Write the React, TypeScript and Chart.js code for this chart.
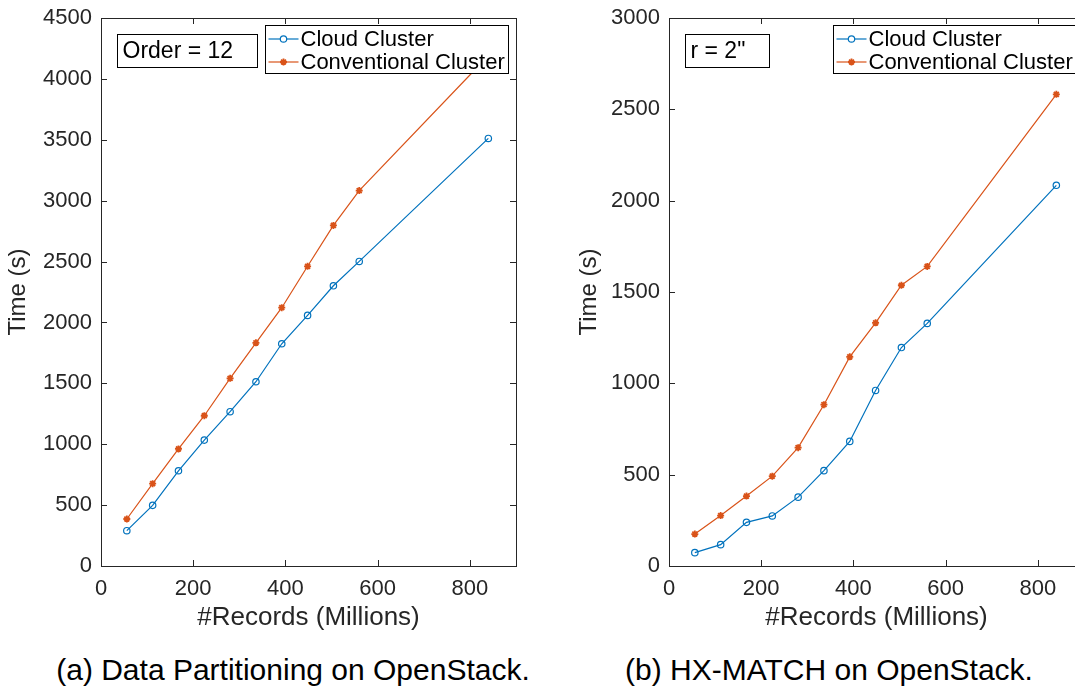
import React, { useEffect, useRef } from "react";
import { Chart, registerables } from "chart.js";

Chart.register(...registerables);

// ---------- data ----------
const records = [56, 112, 168, 224, 280, 336, 392, 448, 504, 560, 840];
const partitionCloud = [290, 498, 782, 1034, 1267, 1513, 1825, 2058, 2301, 2501, 3511];
const partitionConventional = [386, 676, 961, 1234, 1541, 1833, 2121, 2461, 2797, 3083, 4190];
const matchCloud = [73, 117, 239, 274, 377, 522, 682, 961, 1196, 1328, 2084];
const matchConventional = [175, 276, 383, 492, 648, 883, 1145, 1331, 1537, 1640, 2582];
const xTicks = [0, 200, 400, 600, 800];
const xMax = 900;
const partitionYTicks = [0, 500, 1000, 1500, 2000, 2500, 3000, 3500, 4000, 4500];
const matchYTicks = [0, 500, 1000, 1500, 2000, 2500, 3000];
const seriesNames = ["Cloud Cluster", "Conventional Cluster"];
const xTitle = "#Records (Millions)";
const yTitle = "Time (s)";
const captions = ["(a) Data Partitioning on OpenStack.", "(b) HX-MATCH on OpenStack."];
const annotations = ["Order = 12", 'r = 2"'];

const BLUE = "#0072BD";
const ORANGE = "#D95319";
const AXIS = "#262626";
const FONT = "'Liberation Sans', Arial, Helvetica, sans-serif";

function drawStar(ctx: CanvasRenderingContext2D, x: number, y: number, r: number) {
  ctx.beginPath();
  ctx.moveTo(x - r, y);
  ctx.lineTo(x + r, y);
  ctx.moveTo(x, y - r);
  ctx.lineTo(x, y + r);
  const d = r * 0.7071;
  ctx.moveTo(x - d, y - d);
  ctx.lineTo(x + d, y + d);
  ctx.moveTo(x - d, y + d);
  ctx.lineTo(x + d, y - d);
  ctx.stroke();
}

function makeDecorPlugin(annotation: string) {
  return {
    id: "matlabDecor",
    afterDraw(chart: any) {
      const { ctx, chartArea: a, scales } = chart;
      ctx.save();
      // frame
      ctx.strokeStyle = AXIS;
      ctx.lineWidth = 1;
      ctx.strokeRect(Math.round(a.left) + 0.5, Math.round(a.top) + 0.5, Math.round(a.width), Math.round(a.height));
      // inward ticks on all sides
      const tl = 6;
      ctx.beginPath();
      for (const t of scales.x.ticks) {
        const px = Math.round(scales.x.getPixelForValue(t.value)) + 0.5;
        ctx.moveTo(px, a.bottom);
        ctx.lineTo(px, a.bottom - tl);
        ctx.moveTo(px, a.top);
        ctx.lineTo(px, a.top + tl);
      }
      for (const t of scales.y.ticks) {
        const py = Math.round(scales.y.getPixelForValue(t.value)) + 0.5;
        ctx.moveTo(a.left, py);
        ctx.lineTo(a.left + tl, py);
        ctx.moveTo(a.right, py);
        ctx.lineTo(a.right - tl, py);
      }
      ctx.stroke();

      // annotation text box
      ctx.font = `23px ${FONT}`;
      const tw = ctx.measureText(annotation).width;
      const bx = Math.round(a.left + 16) + 0.5;
      const by = Math.round(a.top + 16) + 0.5;
      const bw = Math.round(tw + 29);
      const bh = 33;
      ctx.fillStyle = "#ffffff";
      ctx.fillRect(bx, by, bw, bh);
      ctx.strokeStyle = "#000000";
      ctx.strokeRect(bx, by, bw, bh);
      ctx.fillStyle = "#000000";
      ctx.textBaseline = "middle";
      ctx.textAlign = "left";
      ctx.fillText(annotation, bx + 5, by + bh / 2 + 1);

      // legend
      const lw = 243;
      const lh = 48;
      const lx = Math.round(a.right - 8 - lw) + 0.5;
      const ly = Math.round(a.top + 7) + 0.5;
      ctx.fillStyle = "#ffffff";
      ctx.fillRect(lx, ly, lw, lh);
      ctx.strokeStyle = "#000000";
      ctx.strokeRect(lx, ly, lw, lh);
      ctx.font = `22px ${FONT}`;
      const rows = [
        { name: seriesNames[0], color: BLUE, marker: "circle", y: ly + 13.5 },
        { name: seriesNames[1], color: ORANGE, marker: "star", y: ly + 36.5 },
      ];
      for (const r of rows) {
        ctx.strokeStyle = r.color;
        ctx.lineWidth = 1.2;
        ctx.beginPath();
        ctx.moveTo(lx + 3, r.y);
        ctx.lineTo(lx + 33, r.y);
        ctx.stroke();
        if (r.marker === "circle") {
          ctx.beginPath();
          ctx.arc(lx + 18, r.y, 3.2, 0, Math.PI * 2);
          ctx.fillStyle = "#ffffff";
          ctx.fill();
          ctx.stroke();
        } else {
          ctx.lineWidth = 1.8;
          drawStar(ctx, lx + 18, r.y, 3.5);
        }
        ctx.fillStyle = "#000000";
        ctx.textBaseline = "middle";
        ctx.fillText(r.name, lx + 35, r.y + 1);
      }
      ctx.restore();
    },
  };
}

function makeConfig(
  cloud: number[],
  conventional: number[],
  yTicks: number[],
  annotation: string,
  yAxisWidth: number,
  padRight: number
): any {
  return {
    type: "line",
    data: {
      datasets: [
        {
          label: seriesNames[0],
          data: records.map((x, i) => ({ x, y: cloud[i] })),
          borderColor: BLUE,
          backgroundColor: BLUE,
          borderWidth: 1.2,
          pointStyle: "circle",
          pointRadius: 3.2,
          pointBorderWidth: 1.2,
          pointBorderColor: BLUE,
          pointBackgroundColor: "rgba(255,255,255,0)",
          tension: 0,
        },
        {
          label: seriesNames[1],
          data: records.map((x, i) => ({ x, y: conventional[i] })),
          borderColor: ORANGE,
          backgroundColor: ORANGE,
          borderWidth: 1.2,
          pointStyle: "star",
          pointRadius: 3.5,
          pointBorderWidth: 1.8,
          pointBorderColor: ORANGE,
          pointBackgroundColor: ORANGE,
          tension: 0,
        },
      ],
    },
    options: {
      responsive: false,
      animation: false,
      devicePixelRatio: 1,
      layout: { padding: { left: 0, right: padRight, top: 18, bottom: 0 } },
      plugins: { legend: { display: false }, tooltip: { enabled: false }, title: { display: false } },
      scales: {
        x: {
          type: "linear",
          min: 0,
          max: xMax,
          grid: { display: false, drawTicks: false },
          border: { display: false },
          afterBuildTicks: (s: any) => {
            s.ticks = xTicks.map((v) => ({ value: v }));
          },
          afterFit: (s: any) => {
            s.height = 74;
            s.paddingLeft = 0;
            s.paddingRight = 0;
          },
          ticks: {
            color: AXIS,
            padding: 10,
            maxRotation: 0,
            font: { family: FONT, size: 22 },
            callback: (v: any) => String(v),
          },
          title: {
            display: true,
            text: xTitle,
            color: AXIS,
            font: { family: FONT, size: 26 },
            padding: { top: 0, bottom: 7 },
          },
        },
        y: {
          type: "linear",
          min: 0,
          max: yTicks[yTicks.length - 1],
          grid: { display: false, drawTicks: false },
          border: { display: false },
          afterBuildTicks: (s: any) => {
            s.ticks = yTicks.map((v) => ({ value: v }));
          },
          afterFit: (s: any) => {
            s.width = yAxisWidth;
            s.paddingTop = 0;
            s.paddingBottom = 0;
          },
          ticks: {
            color: AXIS,
            padding: 9,
            font: { family: FONT, size: 22 },
            callback: (v: any) => String(v),
          },
          title: {
            display: true,
            text: yTitle,
            color: AXIS,
            font: { family: FONT, size: 24 },
            padding: { top: 4, bottom: 4 },
          },
        },
      },
    },
    plugins: [makeDecorPlugin(annotation)],
  };
}

export default function App() {
  const leftRef = useRef<HTMLCanvasElement | null>(null);
  const rightRef = useRef<HTMLCanvasElement | null>(null);

  useEffect(() => {
    const charts: Chart[] = [];
    if (leftRef.current) {
      charts.push(
        new Chart(
          leftRef.current,
          makeConfig(partitionCloud, partitionConventional, partitionYTicks, annotations[0], 101, 24)
        )
      );
    }
    if (rightRef.current) {
      charts.push(
        new Chart(rightRef.current, makeConfig(matchCloud, matchConventional, matchYTicks, annotations[1], 98, 27))
      );
    }
    return () => charts.forEach((c) => c.destroy());
  }, []);

  const captionStyle: React.CSSProperties = {
    position: "absolute",
    top: 652,
    height: 36,
    lineHeight: "36px",
    textAlign: "center",
    fontFamily: FONT,
    fontSize: 30,
    color: "#000",
    whiteSpace: "nowrap",
  };

  return (
    <div
      style={{
        position: "fixed",
        left: 0,
        top: 0,
        width: 1075,
        height: 689,
        overflow: "hidden",
        background: "#fff",
      }}
    >
      <canvas ref={leftRef} width={540} height={640} style={{ position: "absolute", left: 0, top: 0 }} />
      <canvas ref={rightRef} width={540} height={640} style={{ position: "absolute", left: 571, top: 0 }} />
      <div style={{ ...captionStyle, left: 0, width: 586 }}>{captions[0]}</div>
      <div style={{ ...captionStyle, left: 579, width: 500 }}>{captions[1]}</div>
    </div>
  );
}
